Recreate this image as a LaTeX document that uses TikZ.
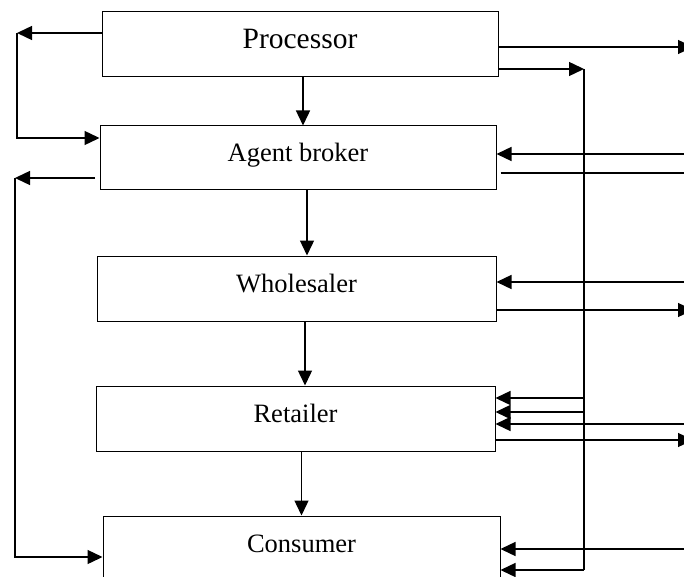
\documentclass[tikz,border=0pt]{standalone}
\usepackage{fontspec}
\setmainfont{Liberation Serif}
\usetikzlibrary{arrows.meta}
\begin{document}
\begin{tikzpicture}[x=1pt,y=-1pt,
  box/.style={draw,line width=1pt,rectangle,inner sep=0pt,minimum height=65pt,
    text height=21pt,text depth=14pt,font=\fontsize{26.5}{30}\selectfont},
  arr/.style={line width=1.4pt,-{Triangle[length=15pt,width=14pt]}},
  ln/.style={line width=1.4pt}]
\useasboundingbox (0,0) rectangle (684,577);
\clip (0,0) rectangle (684,577);
% boxes
\node[box,minimum width=396pt,font=\fontsize{29.5}{32}\selectfont,text height=23pt,text depth=14pt] (P) at (300,44.5) {Processor};
\node[box,minimum width=396pt,minimum height=64pt] (A) at (298,158) {Agent broker};
\node[box,minimum width=399pt] (W) at (296.5,288.5) {Wholesaler};
\node[box,minimum width=399pt] (R) at (295.5,418.5) {Retailer};
\node[box,minimum width=397pt] (C) at (301.5,548.5) {Consumer};
% vertical flow
\draw[arr] ([xshift=3pt]P.south) -- ([xshift=3pt]P.south |- A.north);
\draw[arr] ([xshift=9pt]A.south) -- ([xshift=9pt]A.south |- W.north);
\draw[arr] ([xshift=8.5pt]W.south) -- ([xshift=8.5pt]W.south |- R.north);
\draw[arr] ([xshift=6pt]R.south) -- ([xshift=6pt]R.south |- C.north);
% left side
\coordinate (L1) at (17,33);
\coordinate (L2) at (17,138);
\coordinate (L3) at (15,178);
\coordinate (L4) at (15,557);
\coordinate (L0) at (95,178);
\draw[arr] (P.west |- L1) -- (L1);
\draw[arr] (L1) -- (L2) -- (A.west |- L2);
\draw[arr] (L0) -- (L3);
\draw[arr] (L3) -- (L4) -- (C.west |- L4);
% right side
\coordinate (E1) at (693,47);
\coordinate (V1) at (584,69);
\coordinate (V2) at (584,424);
\coordinate (E2) at (692,154);
\coordinate (E3) at (692,173);
\coordinate (E4) at (692,282);
\coordinate (E5) at (693,310);
\coordinate (V3) at (584,398);
\coordinate (V4) at (584,412);
\coordinate (E6) at (692,424);
\coordinate (E7) at (693,440);
\coordinate (V5) at (584,570);
\coordinate (E8) at (692,549);
\draw[arr] (P.east |- E1) -- (E1);
\draw[arr] (P.east |- V1) -- (V1);
\draw[ln] (V1) -- (V2);
\draw[arr] (E2) -- (A.east |- E2);
\draw[ln] ([xshift=4pt]A.east |- E3) -- (E3);
\draw[arr] (E4) -- (W.east |- E4);
\draw[arr] (W.east |- E5) -- (E5);
\draw[arr] (V3) -- (R.east |- V3);
\draw[arr] (V4) -- (R.east |- V4);
\draw[arr] (E6) -- (R.east |- E6);
\draw[arr] (R.east |- E7) -- (E7);
\draw[ln] (V4) -- (V5);
\draw[arr] (V5) -- (C.east |- V5);
\draw[arr] (E8) -- (C.east |- E8);
\end{tikzpicture}
\end{document}
